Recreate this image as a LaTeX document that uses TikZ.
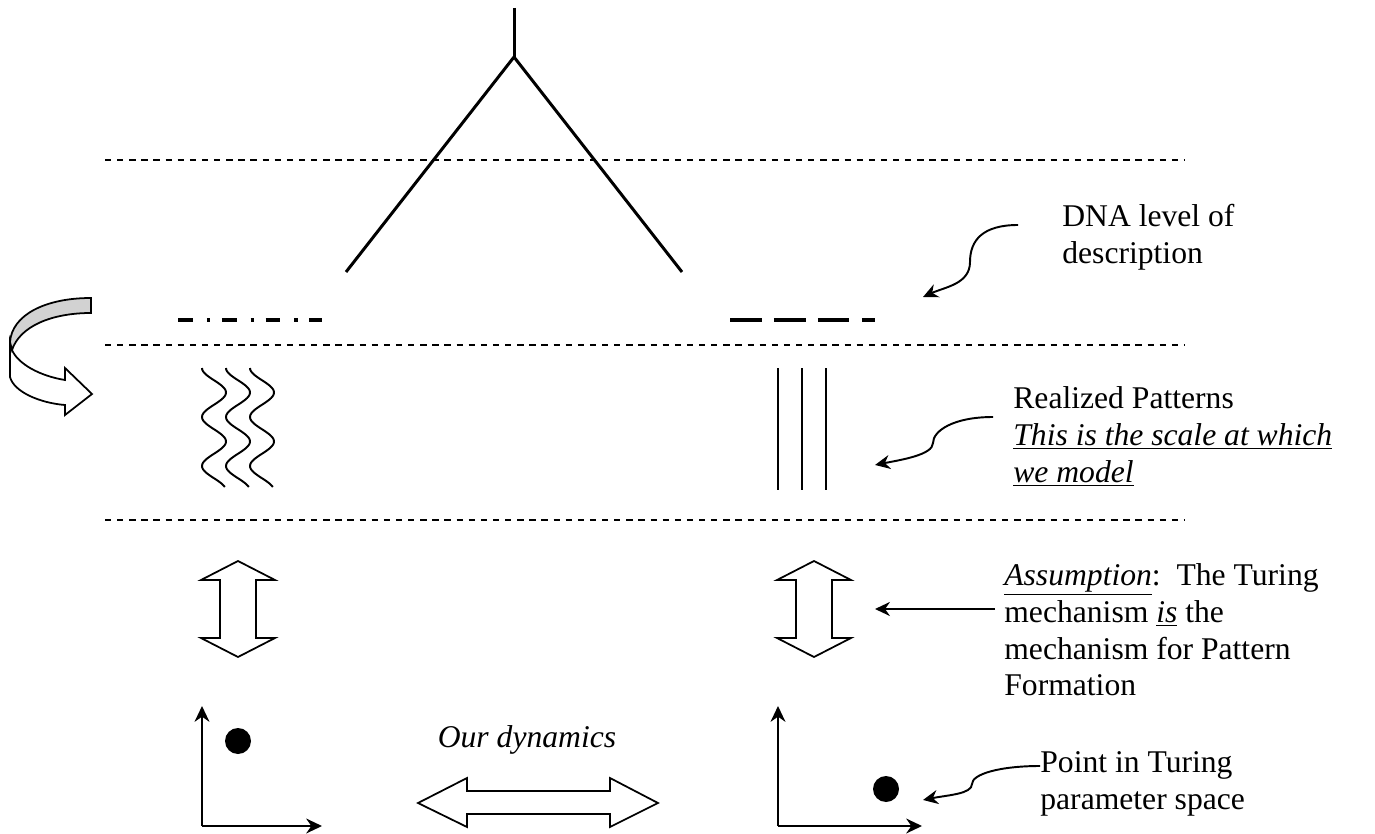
\documentclass[tikz,border=0pt]{standalone}
\usepackage{fontspec}
\setmainfont{Liberation Serif}
\usepackage{tikz}
\usetikzlibrary{arrows.meta}

\tikzset{
  level/.style={line width=0.7pt, dash pattern=on 3.6pt off 3.3pt},
  dnadots/.style={line width=2.4pt, dash pattern=on 8.5pt off 7.9pt on 1.9pt off 6.6pt},
  dnadash/.style={line width=2.4pt, dash pattern=on 18pt off 7pt},
  tree/.style={line width=1.7pt},
  stripe/.style={line width=1.1pt},
  hollow/.style={line width=1pt, fill=white, line join=miter},
  axis/.style={line width=1.1pt, -{Stealth[length=9pt, width=8.5pt]}},
  pointer/.style={line width=1.1pt, -{Stealth[length=8.5pt, width=8pt]}},
  lbl/.style={font=\fontsize{18}{21}\selectfont, inner sep=0pt, anchor=north west, align=left},
}

\begin{document}
\begin{tikzpicture}[x={(0.02cm,0)}, y={(0,-0.02cm)}]
\useasboundingbox (0,0) rectangle (1375,834);

% levels
\foreach \yy in {160,345,520}
  \draw[level] (105,\yy) -- (1185,\yy);

% tree
\draw[tree] (514,8) -- (514,57);
\draw[tree] (346,272) -- (514,57) -- (682,272);

% DNA strings
\draw[dnadots] (178,320) -- (322,320);
\draw[dnadash] (730,320) -- (875,320);

% patterns
\foreach \dx in {0,24,48}
  \draw[stripe] plot[domain=0:119, samples=80] ({214+\dx-12*cos(7.347*\x)}, 368+\x);
\foreach \xx in {778,802,826}
  \draw[stripe] (\xx,368) -- (\xx,490);

% curved ribbon arrow
\draw[hollow] (10,342) -- (10,377) .. controls (14,392) and (40,403) .. (65,405)
  -- (65,415) -- (92,394) -- (65,368) -- (65,380)
  .. controls (40,376) and (18,364) .. (12,350) -- cycle;
\draw[line width=1pt, fill=gray!35] (91,298) .. controls (45,298) and (12,315) .. (10,342)
  -- (12,350) .. controls (20,326) and (52,313) .. (91,313) -- cycle;

% up-down arrows
\foreach \cx in {238,814}
  \draw[hollow] (\cx,561) -- (\cx+37,580) -- (\cx+18,580) -- (\cx+18,638) -- (\cx+37,638)
    -- (\cx,657) -- (\cx-37,638) -- (\cx-18,638) -- (\cx-18,580) -- (\cx-37,580) -- cycle;

% dynamics arrow
\draw[hollow] (418,803) -- (467,778) -- (467,791) -- (610,791) -- (610,778) -- (658,803)
  -- (610,827) -- (610,814) -- (467,814) -- (467,827) -- cycle;
\node[lbl, anchor=base] (dyn) at (527,747) {\textit{Our dynamics}};

% parameter spaces
\coordinate (o1) at (202,826);
\draw[axis] (o1) -- (202,706);
\draw[axis] (o1) -- (322,826);
\fill (238,741) circle[radius=0.26cm];
\coordinate (o2) at (778,826);
\draw[axis] (o2) -- (778,706);
\draw[axis] (o2) -- (922,826);
\fill (886,789) circle[radius=0.26cm];

% labels
\node[lbl] (dna) at (1062,204) {DNA level of\\description};
\node[lbl] (real) at (1013,386) {Realized Patterns\\\underline{\textit{This is the scale at which}}\\\underline{\textit{we model}}};
\node[lbl] (assume) at (1004,563) {\underline{\textit{Assumption}}:\ \ The Turing\\mechanism \underline{\textit{is}} the\\mechanism for Pattern\\Formation};
\node[lbl] (point) at (1040,751) {Point in Turing\\parameter space};

% pointers
\coordinate (dnas) at (1018,225);
\coordinate (dnat) at (923,297);
\draw[pointer] (dnas) .. controls +(-35,0) and +(0,-22) .. (970,262) .. controls +(0,22) and +(22,-10) .. (dnat);
\coordinate (reals) at (993,417);
\coordinate (realt) at (875,465);
\draw[pointer] (reals) .. controls +(-40,0) and +(0,-12) .. (933,443) .. controls +(0,12) and +(25,-5) .. (realt);
\coordinate (points) at (1040,766);
\coordinate (pointt) at (923,800);
\draw[pointer] (points) .. controls +(-40,0) and +(0,-10) .. (972,784) .. controls +(0,10) and +(25,-5) .. (pointt);
\coordinate (assumes) at (995,609);
\coordinate (assumet) at (875,609);
\draw[pointer] (assumes) -- (assumet);
\end{tikzpicture}
\end{document}
